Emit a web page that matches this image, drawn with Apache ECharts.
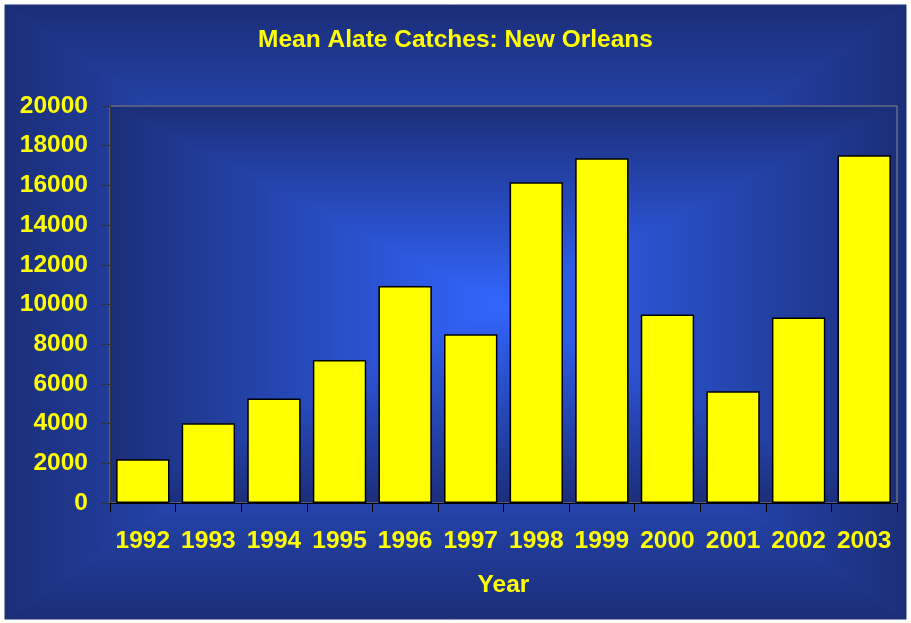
<!DOCTYPE html>
<html>
<head>
<meta charset="utf-8">
<script src="https://cdn.jsdelivr.net/npm/echarts@6/dist/echarts.min.js"></script>
<style>
html,body{margin:0;padding:0;background:#ffffff;}
#chart{width:911px;height:623px;}
</style>
</head>
<body>
<div id="chart"></div>
<script>
const chartTitle = 'Mean Alate Catches: New Orleans';
const xAxisName = 'Year';
const years = ['1992','1993','1994','1995','1996','1997','1998','1999','2000','2001','2002','2003'];
const catches = [2200, 4020, 5270, 7200, 10930, 8500, 16160, 17370, 9500, 5630, 9350, 17520];
const yMin = 0, yMax = 20000, yStep = 2000;

const EDGE = '#1b2e78', CENTER = '#3366ff';
const FONT = '"Liberation Sans", Arial, sans-serif';
const FS = 24.5;
const W = 911, H = 623;
const GRID = {left: 110, top: 106, right: 14, bottom: 120};

function lin(x2, y2, c0, c1) {
  return new echarts.graphic.LinearGradient(0, 0, x2, y2, [
    {offset: 0, color: c0}, {offset: 1, color: c1}
  ]);
}
function pyramid(L, T, R, B, z) {
  const cx = (L + R) / 2, cy = (T + B) / 2;
  const parts = [
    {pts: [[L, T], [R, T], [cx, cy]], g: lin(0, 1, EDGE, CENTER)},
    {pts: [[L, B], [R, B], [cx, cy]], g: lin(0, 1, CENTER, EDGE)},
    {pts: [[L, T], [L, B], [cx, cy]], g: lin(1, 0, EDGE, CENTER)},
    {pts: [[R, T], [R, B], [cx, cy]], g: lin(1, 0, CENTER, EDGE)}
  ];
  return parts.map(p => ({
    type: 'polygon', z: z, silent: true,
    shape: {points: p.pts},
    style: {fill: p.g, stroke: p.g, lineWidth: 1}
  }));
}

const plotL = GRID.left, plotT = GRID.top, plotR = W - GRID.right, plotB = H - GRID.bottom;

const chart = echarts.init(document.getElementById('chart'), null, {renderer: 'canvas'});
const labelStyle = {color: '#ffff00', fontWeight: 'bold', fontSize: FS, fontFamily: FONT};

chart.setOption({
  backgroundColor: '#ffffff',
  animation: false,
  graphic: [].concat(pyramid(5, 5, 906, 619, -20), pyramid(plotL, plotT, plotR, plotB, -10)),
  title: {
    text: chartTitle,
    left: 'center',
    top: 23,
    textStyle: {color: '#ffff00', fontWeight: 'bold', fontSize: FS, fontFamily: FONT}
  },
  grid: {
    left: GRID.left, top: GRID.top, right: GRID.right, bottom: GRID.bottom,
    show: true, borderColor: '#8a8a8a', borderWidth: 1, backgroundColor: 'transparent',
    containLabel: false
  },
  xAxis: {
    type: 'category',
    data: years,
    name: xAxisName,
    nameLocation: 'middle',
    nameGap: 70,
    nameTextStyle: labelStyle,
    axisLine: {show: true, lineStyle: {color: '#000000', width: 1}},
    axisTick: {show: true, alignWithLabel: false, length: 9, lineStyle: {color: '#000000'}},
    axisLabel: Object.assign({margin: 26, interval: 0}, labelStyle),
    splitLine: {show: false}
  },
  yAxis: {
    type: 'value',
    min: yMin, max: yMax, interval: yStep,
    axisLine: {show: true, lineStyle: {color: '#333333', width: 1}},
    axisTick: {show: true, length: 9, lineStyle: {color: '#333333'}},
    axisLabel: Object.assign({margin: 22, formatter: v => String(v)}, labelStyle),
    splitLine: {show: false}
  },
  series: [{
    type: 'bar',
    data: catches,
    barCategoryGap: '18.6%',
    itemStyle: {color: '#ffff00', borderColor: '#000000', borderWidth: 1.5}
  }]
});
</script>
</body>
</html>
